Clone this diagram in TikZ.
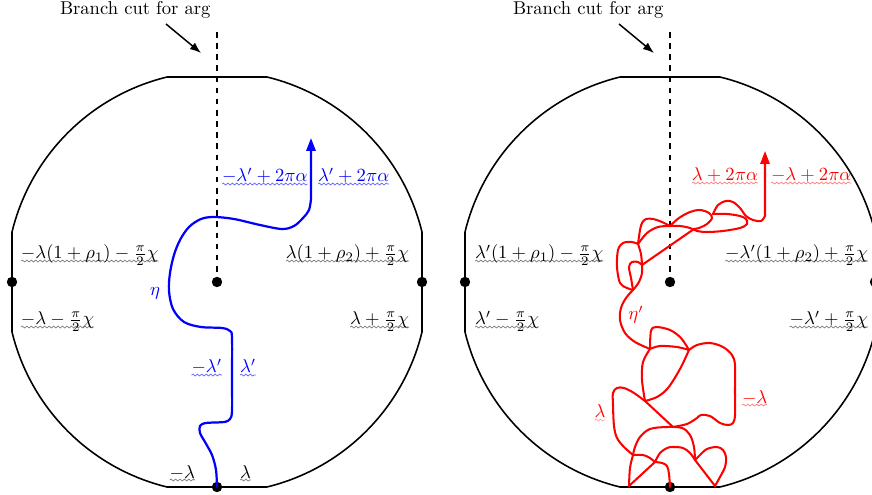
\documentclass[tikz,border=0pt]{standalone}
\usetikzlibrary{arrows.meta,decorations.pathmorphing,calc}
\tikzset{
  disk/.style={line width=0.85pt},
  cut/.style={dashed, line width=0.8pt},
  bdot/.style={circle, fill=black, inner sep=0pt, minimum size=5.6pt},
  lab/.style={inner sep=0pt, outer sep=0pt},
  wv/.style={append after command={\pgfextra{\draw[#1,line width=0.4pt,decorate,decoration={snake,amplitude=0.5pt,segment length=2.4pt}] ([yshift=-1.1pt]\tikzlastnode.base west) -- ([yshift=-1.1pt]\tikzlastnode.base east);}}},
  wv/.default=black!50,
  bcurve/.style={blue, line width=1.2pt, line cap=round, line join=round},
  rcurve/.style={red, line width=1.1pt, line cap=round, line join=round},
  tiparrow/.style={-{Triangle[length=7pt,width=5pt]}},
  cutarrow/.style={-{Latex[length=6pt,width=4.5pt]}, line width=0.8pt},
}
\newcommand\mydisk[1]{%
  \draw[disk] ($(#1)+(205,-50)$) -- ($(#1)+(205,50)$)
    arc[start angle=13.71, end angle=76.29, radius=211.01]
    -- ($(#1)+(-50,205)$)
    arc[start angle=103.71, end angle=166.29, radius=211.01]
    -- ($(#1)+(-205,-50)$)
    arc[start angle=193.71, end angle=256.29, radius=211.01]
    -- ($(#1)+(50,-205)$)
    arc[start angle=283.71, end angle=346.29, radius=211.01] -- cycle;}
\newcommand\redseg[1]{\draw[rcurve] plot[smooth,tension=0.55] coordinates {#1};}
\begin{document}
\begin{tikzpicture}[x=0.5385pt,y=-0.5385pt]
\useasboundingbox (0,0) rectangle (872,495);
% ---------------- left disk ----------------
\coordinate (c1) at (217,282);
\mydisk{c1}
\coordinate (cuttop1) at (217,32);
\draw[cut] (cuttop1) -- (c1);
\node[bdot] (dc1) at (c1) {};
\node[bdot] (dl1) at (12,282) {};
\node[bdot] (dr1) at (422,282) {};
\node[bdot] (db1) at (217,487) {};
\node[lab, anchor=base west] (bt1) at (60,15) {Branch cut for arg};
\coordinate (as1) at (166,24);
\coordinate (ae1) at (201,53);
\draw[cutarrow] (as1) -- (ae1);
% labels
\node[lab, wv, anchor=base west] (l11) at (21,259) {$-\lambda(1+\rho_1)-\frac{\pi}{2}\chi$};
\node[lab, wv, anchor=base west] (l12) at (21,325) {$-\lambda-\frac{\pi}{2}\chi$};
\node[lab, wv, anchor=base east] (r11) at (409,259) {$\lambda(1+\rho_2)+\frac{\pi}{2}\chi$};
\node[lab, wv, anchor=base east] (r12) at (409,325) {$\lambda+\frac{\pi}{2}\chi$};
\node[lab, wv=blue!60, text=blue, anchor=base west] (tl1) at (222,182) {$-\lambda'+2\pi\alpha$};
\node[lab, wv=blue!60, text=blue, anchor=base west] (tr1) at (318,182) {$\lambda'+2\pi\alpha$};
\node[lab, wv=blue!60, text=blue, anchor=base east] (ml1) at (222,373) {$-\lambda'$};
\node[lab, wv=blue!60, text=blue, anchor=base west] (mr1) at (240,373) {$\lambda'$};
\node[lab, wv, anchor=base east] (bl1) at (195,478) {$-\lambda$};
\node[lab, wv, anchor=base west] (br1) at (240,478) {$\lambda$};
\node[lab, text=blue, anchor=base] (eta) at (155,296) {$\eta$};
% blue curve
\coordinate (btip) at (311,138);
\draw[bcurve, tiparrow] (db1.center) -- plot[smooth,tension=0.55] coordinates {(217,487) (216,470) (212,455) (205,442) (200,433) (200,426) (206,423) (224,422) (230,419) (232,411) (232,380) (232,338) (230,331) (222,328) (201,327) (184,322) (173,309) (169,291) (170,273) (174,255) (180,240) (189,227) (201,219) (214,217) (234,219) (260,225) (282,229) (294,226) (303,218) (309,210) (311,199)} -- (btip);
% ---------------- right disk ----------------
\coordinate (c2) at (670,282);
\mydisk{c2}
\coordinate (cuttop2) at (670,32);
\draw[cut] (cuttop2) -- (c2);
\node[bdot] (dc2) at (c2) {};
\node[bdot] (dl2) at (465,282) {};
\node[bdot] (dr2) at (875,282) {};
\node[bdot] (db2) at (670,487) {};
\node[lab, anchor=base west] (bt2) at (513,15) {Branch cut for arg};
\coordinate (as2) at (619,24);
\coordinate (ae2) at (654,53);
\draw[cutarrow] (as2) -- (ae2);
\node[lab, wv, anchor=base west] (l21) at (475,259) {$\lambda'(1+\rho_1)-\frac{\pi}{2}\chi$};
\node[lab, wv, anchor=base west] (l22) at (475,325) {$\lambda'-\frac{\pi}{2}\chi$};
\node[lab, wv, anchor=base east] (r21) at (868,259) {$-\lambda'(1+\rho_2)+\frac{\pi}{2}\chi$};
\node[lab, wv, anchor=base east] (r22) at (868,325) {$-\lambda'+\frac{\pi}{2}\chi$};
\node[lab, wv=red!50, text=red, anchor=base east] (tl2) at (758,181) {$\lambda+2\pi\alpha$};
\node[lab, wv=red!50, text=red, anchor=base west] (tr2) at (771,181) {$-\lambda+2\pi\alpha$};
\node[lab, wv=red!35, text=red, anchor=base] (rl2) at (600,418) {$\lambda$};
\node[lab, wv=red!50, text=red, anchor=base west] (rr2) at (742,403) {$-\lambda$};
\node[lab, text=red, anchor=base] (etap) at (636,320) {$\eta'$};
% red curve
\draw[rcurve] (db2.center) -- plot[smooth,tension=0.55] coordinates {(670,487) (669,474) (667,466) (662,463) (655,462)};
\redseg{(655,462) (629,486)}
\redseg{(629,486) (630,468) (633,455)}
\redseg{(633,455) (643,455) (650,458) (655,462)}
\redseg{(655,462) (660,453) (667,448) (673,447) (683,448) (690,453) (695,460)}
\redseg{(695,460) (715,486)}
\redseg{(715,486) (720,477) (725,467) (726,457) (723,450) (717,447) (707,449) (700,455) (695,460)}
\redseg{(695,460) (694,447) (690,435) (682,428) (667,427) (650,429) (640,437) (635,447) (633,455)}
\redseg{(633,455) (624,447) (617,438) (614,426) (613,405) (613,393) (617,388) (624,388) (634,393) (645,401)}
\redseg{(645,401) (673,427)}
\redseg{(673,427) (687,424) (697,418) (701,415) (710,416) (720,423) (728,425) (733,423) (735,415) (735,390) (735,365) (732,355) (723,347) (710,343) (697,345) (689,350)}
\redseg{(689,350) (680,369) (668,388) (657,397) (645,401)}
\redseg{(645,401) (642,380) (643,362) (650,349)}
\redseg{(650,349) (651,331) (656,327) (670,330) (681,338) (689,350)}
\redseg{(689,350) (677,347) (660,346) (650,349)}
\redseg{(650,349) (635,342) (625,333) (620,320) (621,308) (626,298) (633,290)}
\redseg{(633,290) (627,288) (620,283) (617,267) (618,250) (623,243) (632,242) (638,244)}
\redseg{(638,244) (640,230) (642,223) (646,219) (653,219) (662,222) (670,226)}
\redseg{(670,226) (679,218) (690,212) (700,210) (709,213) (712,218) (707,224) (699,228) (694,229)}
\redseg{(694,229) (642,265)}
\redseg{(642,265) (638,262) (632,262) (629,267) (631,278) (633,290)}
\redseg{(633,290) (639,282) (642,273) (642,265)}
\redseg{(642,265) (641,254) (638,244)}
\redseg{(638,244) (647,233) (658,227) (670,226)}
\redseg{(670,226) (680,226) (690,228) (697,231) (707,232) (723,231) (740,228) (747,224) (746,219) (740,216) (727,214) (713,214)}
\coordinate (rtip) at (765,151);
\draw[rcurve, tiparrow] plot[smooth,tension=0.55] coordinates {(713,214) (718,205) (726,201) (733,202) (740,208) (746,216) (753,220) (761,221) (765,216)} -- (rtip);
\end{tikzpicture}
\end{document}
